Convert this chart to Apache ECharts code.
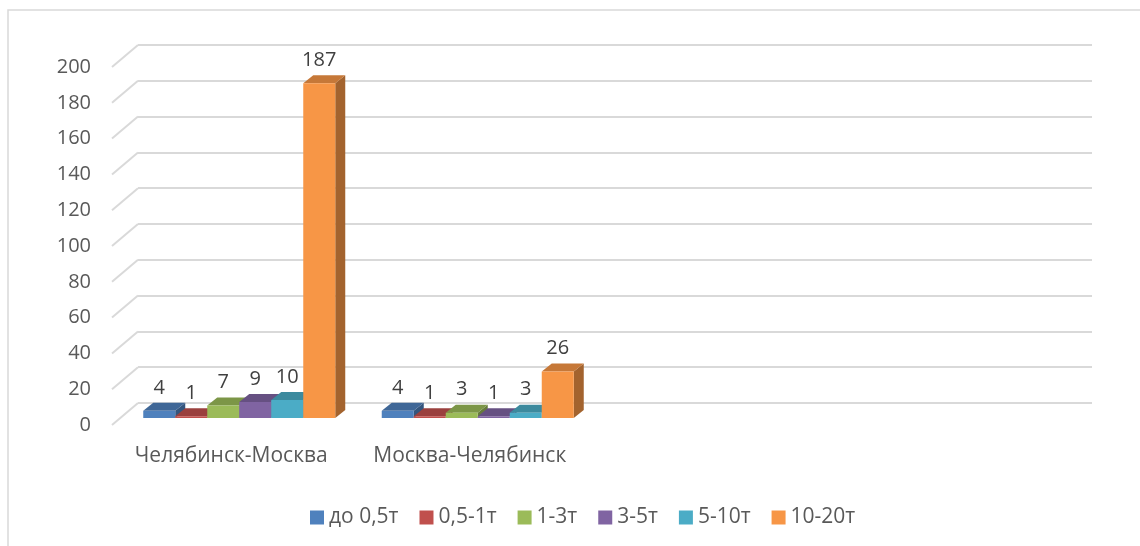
<!DOCTYPE html>
<html>
<head>
<meta charset="utf-8">
<script src="https://cdn.jsdelivr.net/npm/echarts@6/dist/echarts.min.js"></script>
<style>
  html, body { margin: 0; padding: 0; background: #fff; }
  #chart { width: 1140px; height: 546px; }
</style>
</head>
<body>
<div id="chart"></div>
<script>
// data
const categories = ['Челябинск-Москва', 'Москва-Челябинск'];
const emptySlots = ['', ''];
const seriesNames = ['до 0,5т', '0,5-1т', '1-3т', '3-5т', '5-10т', '10-20т'];
const seriesColors = ['#4F81BD', '#C0504D', '#9BBB59', '#8064A2', '#4BACC6', '#F79646'];
const upTo05 = [4, 4];
const from05to1 = [1, 1];
const from1to3 = [7, 3];
const from3to5 = [9, 1];
const from5to10 = [10, 3];
const from10to20 = [187, 26];
const seriesValues = [upTo05, from05to1, from1to3, from3to5, from5to10, from10to20];
const yTicks = [0, 20, 40, 60, 80, 100, 120, 140, 160, 180, 200];

// 3d look
const WALL = [26, -22];
const BAR_SHIFT = [8, -7];
const BAR_DEPTH = [10, -8];
const BAR_W = 32;
const FONT = '"Open Sans", "DejaVu Sans", sans-serif';

function shade(hex, k) {
    let n = parseInt(hex.slice(1), 16);
    let r = Math.round(((n >> 16) & 255) * k);
    let g = Math.round(((n >> 8) & 255) * k);
    let b = Math.round((n & 255) * k);
    return 'rgb(' + r + ',' + g + ',' + b + ')';
}

function barItem(params, api) {
    let cat = api.value(0);
    let v = api.value(1);
    let base = api.coord([cat, 0]);
    let top = api.coord([cat, v]);
    let si = params.seriesIndex;
    let color = seriesColors[si];
    let x0 = base[0] - 3 * BAR_W + si * BAR_W + BAR_SHIFT[0];
    let yb = base[1] + BAR_SHIFT[1];
    let yt = top[1] + BAR_SHIFT[1];
    let dx = BAR_DEPTH[0], dy = BAR_DEPTH[1];
    return {
        type: 'group',
        children: [
            {
                type: 'polygon',
                shape: { points: [[x0 + BAR_W, yt], [x0 + BAR_W + dx, yt + dy], [x0 + BAR_W + dx, yb + dy], [x0 + BAR_W, yb]] },
                style: { fill: shade(color, 0.66) }
            },
            {
                type: 'polygon',
                shape: { points: [[x0, yt], [x0 + BAR_W, yt], [x0 + BAR_W + dx, yt + dy], [x0 + dx, yt + dy]] },
                style: { fill: shade(color, 0.8) }
            },
            {
                type: 'rect',
                shape: { x: x0, y: yt, width: BAR_W, height: yb - yt },
                style: { fill: color }
            },
            {
                type: 'text',
                z2: 10,
                style: {
                    x: x0 + BAR_W / 2,
                    y: yt + dy - 5,
                    text: String(v),
                    fill: '#404040',
                    font: '20px ' + FONT,
                    align: 'center',
                    verticalAlign: 'bottom'
                }
            }
        ]
    };
}

function sideLineItem(params, api) {
    let y = api.coord([0, api.value(0)])[1];
    let x = params.coordSys.x;
    return {
        type: 'line',
        shape: { x1: x, y1: y, x2: x + WALL[0], y2: y + WALL[1] },
        style: { stroke: '#D9D9D9', lineWidth: 2 }
    };
}

let myChart = echarts.init(document.getElementById('chart'));

let series = seriesNames.map(function (name, i) {
    return {
        name: name,
        type: 'custom',
        xAxisIndex: 0,
        yAxisIndex: 0,
        itemStyle: { color: seriesColors[i] },
        renderItem: barItem,
        data: seriesValues[i].map(function (v, c) { return [c, v]; }),
        z: 5
    };
});
series.push({
    type: 'custom',
    xAxisIndex: 0,
    yAxisIndex: 0,
    renderItem: sideLineItem,
    data: yTicks.map(function (t) { return [t]; }),
    silent: true,
    z: 1
});

let option = {
    animation: false,
    backgroundColor: '#fff',
    graphic: [{
        type: 'rect',
        shape: { x: 8, y: 10, width: 1300, height: 700 },
        style: { fill: 'none', stroke: '#D9D9D9', lineWidth: 1.5 },
        silent: true
    }],
    legend: {
        data: seriesNames,
        left: 305,
        top: 502,
        icon: 'rect',
        itemWidth: 14,
        itemHeight: 14,
        itemGap: 21,
        textStyle: { fontSize: 21, color: '#595959', fontFamily: FONT }
    },
    grid: [
        { left: 112, right: 74, top: 67, bottom: 121 },
        { left: 112 + WALL[0], right: 74 - WALL[0], top: 67 + WALL[1], bottom: 121 - WALL[1] }
    ],
    xAxis: [
        {
            type: 'category',
            gridIndex: 0,
            data: categories.concat(emptySlots),
            axisLine: { show: false },
            axisTick: { show: false },
            axisLabel: { interval: 0, fontSize: 21, color: '#595959', fontFamily: FONT, margin: 21 }
        },
        {
            type: 'category',
            gridIndex: 1,
            data: categories.concat(emptySlots),
            show: false
        }
    ],
    yAxis: [
        {
            type: 'value',
            gridIndex: 0,
            min: 0,
            max: 200,
            interval: 20,
            splitLine: { show: false },
            axisLine: { show: false },
            axisTick: { show: false },
            axisLabel: { fontSize: 20, color: '#595959', fontFamily: FONT, margin: 21 }
        },
        {
            type: 'value',
            gridIndex: 1,
            min: 0,
            max: 200,
            interval: 20,
            axisLine: { show: false },
            axisTick: { show: false },
            axisLabel: { show: false },
            splitLine: { lineStyle: { color: '#D9D9D9', width: 2 } }
        }
    ],
    series: series
};

myChart.setOption(option);
</script>
</body>
</html>
